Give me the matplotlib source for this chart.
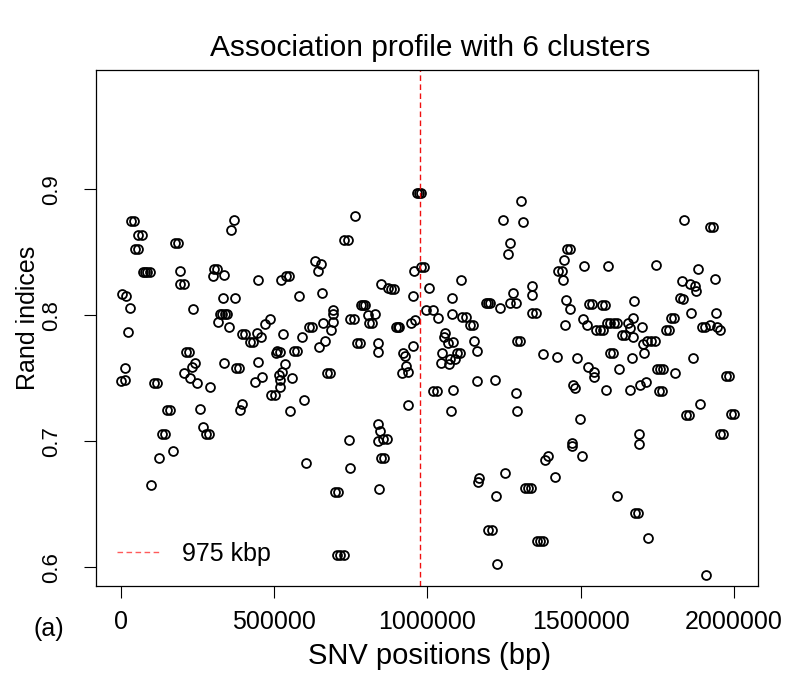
import numpy as np
import matplotlib
matplotlib.use("Agg")
import matplotlib.pyplot as plt
from matplotlib.lines import Line2D

plt.rcParams['font.family'] = ['Liberation Sans', 'DejaVu Sans']

# SNV positions (kbp) and Rand indices, split by region
pos_left = [33.7, 44.6, 369.5, 360.7, 58.0, 69.5, 175.9, 186.9, 48.3, 58.0,
            634.7, 653.3, 73.0, 80.0, 87.0, 94.0, 193.4, 304.4, 315.3, 300.1,
            336.0, 642.5, 194.5, 205.5, 539.2, 550.1, 523.8, 447.8, 5.2, 18.3,
            29.4, 332.7, 372.8, 581.5, 656.6, 235.8, 324.0, 332.0, 339.0, 347.0,
            317.4, 354.2, 23.8, 395.0, 406.0, 421.2, 432.1, 444.5, 457.6, 471.6,
            486.0, 613.0, 623.9, 659.8, 530.3, 591.3, 565.3, 576.2, 647.8, 509.8,
            520.6, 506.5, 213.1, 224.0, 536.9, 446.8, 337.9, 374.8, 385.8, 243.3,
            232.6, 207.4, 227.0, 248.9, 14.0, 15.0, 0.0, 107.4, 118.3, 292.2,
            461.8, 438.0, 515.3, 527.1, 518.6, 558.7, 666.3,
            491.3, 502.2, 518.6, 598.8, 553.2, 151.1, 162.0, 257.7, 395.6, 390.1,
            134.8, 145.7, 268.4, 278.3, 289.2, 170.6, 125.9, 99.8, 603.4]
ri_left = [0.875, 0.875, 0.876, 0.868, 0.864, 0.864, 0.857, 0.857, 0.853, 0.853,
           0.843, 0.841, 0.834, 0.834, 0.834, 0.834, 0.835, 0.837, 0.837, 0.831,
           0.832, 0.835, 0.825, 0.825, 0.831, 0.831, 0.828, 0.828, 0.817, 0.815,
           0.806, 0.814, 0.814, 0.815, 0.818, 0.805, 0.801, 0.801, 0.801, 0.801,
           0.795, 0.791, 0.787, 0.785, 0.785, 0.779, 0.779, 0.786, 0.783, 0.793,
           0.797, 0.791, 0.791, 0.794, 0.785, 0.783, 0.772, 0.772, 0.775, 0.772,
           0.771, 0.770, 0.771, 0.771, 0.761, 0.763, 0.762, 0.758, 0.758, 0.762,
           0.759, 0.754, 0.750, 0.746, 0.758, 0.749, 0.748, 0.746, 0.746, 0.743,
           0.751, 0.747, 0.753, 0.755, 0.749, 0.750, 0.780,
           0.737, 0.737, 0.743, 0.733, 0.724, 0.725, 0.725, 0.726, 0.730, 0.725,
           0.706, 0.706, 0.711, 0.706, 0.706, 0.692, 0.687, 0.665, 0.683]

pos_mid = [965.5, 972.0, 978.5, 1304.6, 765.2, 1245.9, 1313.1, 729.4, 740.3, 1269.7,
           1262.2, 979.5, 990.4, 956.6, 1109.0, 849.0, 872.8, 882.0, 891.4, 1004.6,
           954.3, 1080.6, 1192.0, 1198.5, 1205.0, 1237.1, 1280.5, 1269.7, 1289.3, 1340.5,
           1340.5, 785.0, 791.4, 798.0, 995.8, 1017.6, 1035.9, 1080.6, 1114.2, 1125.1,
           1139.4, 1150.3, 1342.5, 1353.5, 749.0, 759.9, 693.4, 693.4, 691.5, 685.9,
           807.6, 829.4, 810.0, 821.0, 897.0, 903.0, 909.0, 945.9, 959.9, 1057.7,
           1054.5, 1068.5, 1084.8, 1047.0, 1044.7, 1074.0, 1090.4, 1096.5, 1107.5, 1071.8,
           1153.3, 1161.1, 1291.4, 1302.3, 1378.4, 769.5, 780.4, 838.2, 838.2, 954.3,
           921.7, 927.3, 930.5, 916.5, 936.1, 671.7, 682.6, 1163.1, 1220.8,
           1019.7, 1030.6, 1084.8, 1289.3, 1291.6, 938.0, 1076.3, 840.2, 845.7, 840.2,
           856.5, 867.5, 745.6, 847.8, 858.7, 747.9, 843.5, 699.1, 710.0, 1169.6,
           1166.3, 1253.4, 1224.1, 1318.5, 1328.5, 1338.5, 1199.1, 1210.0, 1356.6, 1367.6,
           1378.6, 705.9, 716.9, 727.9, 1228.3, 1392.7, 1383.9]
ri_mid = [0.897, 0.897, 0.897, 0.891, 0.879, 0.876, 0.874, 0.860, 0.860, 0.857,
          0.849, 0.838, 0.838, 0.835, 0.828, 0.825, 0.822, 0.821, 0.821, 0.822,
          0.815, 0.814, 0.810, 0.810, 0.810, 0.806, 0.818, 0.810, 0.810, 0.823,
          0.816, 0.808, 0.808, 0.808, 0.804, 0.804, 0.798, 0.801, 0.799, 0.799,
          0.792, 0.792, 0.802, 0.802, 0.797, 0.797, 0.804, 0.801, 0.795, 0.788,
          0.800, 0.801, 0.794, 0.794, 0.791, 0.791, 0.791, 0.794, 0.796, 0.786,
          0.783, 0.778, 0.779, 0.770, 0.762, 0.765, 0.765, 0.770, 0.770, 0.761,
          0.780, 0.772, 0.780, 0.780, 0.769, 0.778, 0.778, 0.778, 0.771, 0.776,
          0.770, 0.768, 0.760, 0.754, 0.755, 0.754, 0.754, 0.748, 0.749,
          0.740, 0.740, 0.741, 0.738, 0.724, 0.729, 0.724, 0.714, 0.708, 0.700,
          0.702, 0.702, 0.701, 0.687, 0.687, 0.679, 0.662, 0.660, 0.660, 0.671,
          0.668, 0.675, 0.657, 0.663, 0.663, 0.663, 0.630, 0.630, 0.621, 0.621,
          0.621, 0.610, 0.610, 0.610, 0.603, 0.688, 0.685]

pos_right = [1838.2, 1922.0, 1933.0, 1454.4, 1465.3, 1445.9, 1511.1, 1590.3, 1745.0, 1427.5,
             1438.5, 1441.6, 1883.9, 1938.4, 1829.8, 1856.8, 1873.1, 1875.4, 1824.2, 1835.0,
             1451.4, 1465.4, 1527.5, 1538.4, 1568.6, 1579.5, 1674.2, 1860.1, 1941.6, 1794.9,
             1805.8, 1506.9, 1519.9, 1449.1, 1550.2, 1561.7, 1573.1, 1586.0, 1596.0, 1610.0,
             1620.0, 1655.6, 1671.9, 1661.1, 1699.3, 1671.9, 1633.8, 1644.8, 1778.6, 1789.5,
             1716.6, 1729.6, 1742.7, 1704.5, 1894.5, 1905.5, 1922.0, 1945.9, 1954.7, 1422.1,
             1487.3, 1596.0, 1606.9, 1666.7, 1707.8, 1865.6, 1525.1, 1543.7, 1543.7, 1626.2,
             1749.0, 1759.0, 1769.0, 1808.8, 1974.3, 1985.2, 1476.2, 1481.8, 1582.9, 1661.1,
             1693.7, 1713.3, 1755.8, 1766.7,
             1889.4, 1842.6, 1853.5, 1989.3, 2000.3, 1954.8, 1965.7, 1498.1, 1690.5, 1690.5,
             1471.0, 1472.9, 1503.6, 1416.5, 1619.7, 1677.5, 1688.4, 1720.8, 1908.0]
ri_right = [0.876, 0.870, 0.870, 0.853, 0.853, 0.844, 0.839, 0.839, 0.840, 0.835,
            0.835, 0.828, 0.837, 0.829, 0.827, 0.825, 0.823, 0.819, 0.814, 0.813,
            0.812, 0.805, 0.809, 0.809, 0.808, 0.808, 0.811, 0.802, 0.802, 0.798,
            0.798, 0.797, 0.792, 0.792, 0.788, 0.788, 0.788, 0.794, 0.794, 0.794,
            0.794, 0.794, 0.798, 0.790, 0.791, 0.783, 0.784, 0.784, 0.788, 0.788,
            0.780, 0.780, 0.780, 0.777, 0.791, 0.791, 0.792, 0.791, 0.788, 0.767,
            0.766, 0.770, 0.770, 0.766, 0.770, 0.766, 0.759, 0.755, 0.751, 0.757,
            0.757, 0.757, 0.757, 0.754, 0.752, 0.752, 0.745, 0.742, 0.741, 0.741,
            0.745, 0.747, 0.740, 0.740,
            0.730, 0.721, 0.721, 0.722, 0.722, 0.706, 0.706, 0.718, 0.706, 0.698,
            0.699, 0.696, 0.688, 0.672, 0.657, 0.643, 0.643, 0.623, 0.594]

breakpoint_bp = 975000
x_ticks = [0, 500000, 1000000, 1500000, 2000000]
y_ticks = [0.6, 0.7, 0.8, 0.9]

snv_pos = np.array(pos_left + pos_mid + pos_right) * 1000
rand_idx = np.array(ri_left + ri_mid + ri_right)

W, H = 786, 675
fig = plt.figure(figsize=(W / 100, H / 100), dpi=100)
ax = fig.add_axes([95.7 / W, 1 - 586 / H, (758.3 - 95.7) / W, (586 - 70.3) / H])

ax.plot(snv_pos, rand_idx, ls='none', marker='o', mfc='none', mec='black',
        ms=6.4, mew=1.3)
ax.axvline(breakpoint_bp, color='#f01010', lw=1.0, ls=(0, (4, 2.5)))

ax.set_xlim(-81500, 2079600)
ax.set_ylim(0.5852, 0.9944)
ax.set_xticks(x_ticks)
ax.set_xticklabels([str(t) for t in x_ticks], fontsize=18)
ax.set_yticks(y_ticks)
ax.set_yticklabels([f"{t:.1f}" for t in y_ticks], fontsize=16, rotation=90, va='center')
ax.tick_params(axis='x', direction='out', length=8.5, width=0.8, pad=9)
ax.tick_params(axis='y', direction='out', length=8.5, width=0.8, pad=16)
for s in ax.spines.values():
    s.set_linewidth(0.9)

handle = Line2D([], [], color='#ff5a5a', lw=1.0, ls=(0, (4, 2.5)))
ax.legend([handle], ['975 kbp'], loc='center left', bbox_to_anchor=(0.032, 0.062),
          frameon=False, fontsize=18, handlelength=1.8, handletextpad=0.8,
          borderpad=0, borderaxespad=0)

fig.text(430 / W, 1 - 56 / H, 'Association profile with 6 clusters', fontsize=21.5,
         ha='center', va='baseline')
fig.text(429 / W, 1 - 664 / H, 'SNV positions (bp)', fontsize=21,
         ha='center', va='baseline')
fig.text(28 / W, 1 - 318 / H, 'Rand indices', fontsize=18, rotation=90,
         ha='center', va='center')
fig.text(49 / W, 1 - 629 / H, '(a)', fontsize=18, ha='center', va='center')

fig.savefig('out.png', dpi=100)
